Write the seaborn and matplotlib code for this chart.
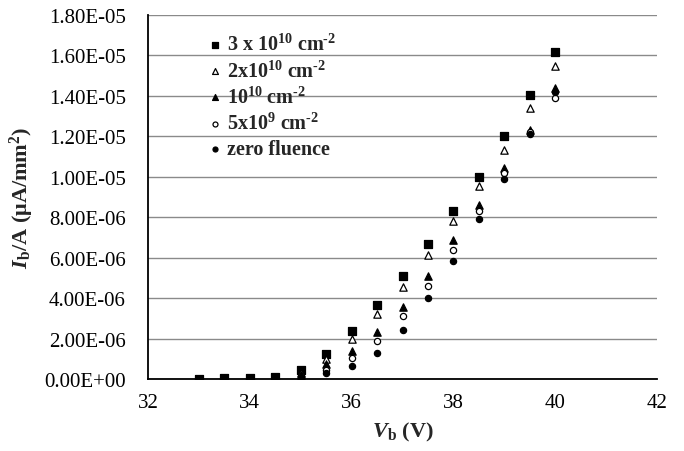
import numpy as np
import pandas as pd
import matplotlib
matplotlib.use("Agg")
import matplotlib.pyplot as plt
import seaborn as sns

sns.set_theme(style="white")
plt.rcParams['font.family'] = ['Liberation Serif', 'DejaVu Serif']
plt.rcParams['mathtext.fontset'] = 'custom'
plt.rcParams['mathtext.rm'] = 'Liberation Serif'
plt.rcParams['mathtext.it'] = 'Liberation Serif:italic'
plt.rcParams['mathtext.bf'] = 'Liberation Serif:bold'
plt.rcParams['mathtext.bfit'] = 'Liberation Serif:italic:bold'

voltage = [33, 33.5, 34, 34.5, 35, 35.5, 36, 36.5, 37, 37.5, 38, 38.5, 39, 39.5, 40]
f_3e10 = [0.02e-6, 0.03e-6, 0.05e-6, 0.12e-6, 0.45e-6, 1.26e-6, 2.35e-6, 3.67e-6, 5.10e-6, 6.70e-6, 8.30e-6, 10.0e-6, 12.0e-6, 14.05e-6, 16.15e-6]
f_2e10 = [0.015e-6, 0.025e-6, 0.04e-6, 0.10e-6, 0.32e-6, 1.00e-6, 2.00e-6, 3.20e-6, 4.57e-6, 6.15e-6, 7.80e-6, 9.55e-6, 11.3e-6, 13.4e-6, 15.46e-6]
f_1e10 = [0.01e-6, 0.02e-6, 0.03e-6, 0.07e-6, 0.22e-6, 0.72e-6, 1.36e-6, 2.30e-6, 3.58e-6, 5.07e-6, 6.85e-6, 8.60e-6, 10.45e-6, 12.3e-6, 14.4e-6]
f_5e9 = [0.01e-6, 0.015e-6, 0.02e-6, 0.05e-6, 0.15e-6, 0.46e-6, 1.05e-6, 1.87e-6, 3.10e-6, 4.60e-6, 6.40e-6, 8.30e-6, 10.2e-6, 12.2e-6, 13.9e-6]
f_zero = [0.005e-6, 0.01e-6, 0.015e-6, 0.03e-6, 0.08e-6, 0.28e-6, 0.62e-6, 1.28e-6, 2.40e-6, 4.00e-6, 5.85e-6, 7.90e-6, 9.90e-6, 12.1e-6, 14.2e-6]

labels = [r"3 x 10$^{\mathbf{10}}$ cm$^{\mathbf{\text{-}2}}$",
          r"2x10$^{\mathbf{10}}$ cm$^{\mathbf{\text{-}2}}$",
          r"10$^{\mathbf{10}}$ cm$^{\mathbf{\text{-}2}}$",
          r"5x10$^{\mathbf{9}}$ cm$^{\mathbf{\text{-}2}}$",
          "zero fluence"]
series = [f_3e10, f_2e10, f_1e10, f_5e9, f_zero]
markers = ["s", "^", "^", "o", "o"]
faces = ["black", "white", "black", "white", "black"]
sizes = [30, 28, 28, 20, 20]

fig = plt.figure(figsize=(6.84, 4.52), dpi=100)
ax = fig.add_axes([148/684, 1 - 380/452, (657-148)/684, (380-16)/452])

for lab, ys, m, fc, s in zip(labels, series, markers, faces, sizes):
    df = pd.DataFrame({"V": voltage, "I": ys})
    sns.scatterplot(data=df, x="V", y="I", ax=ax, marker=m, s=s,
                    facecolor=fc, edgecolor="black", linewidth=0.9,
                    label=lab, zorder=3)

ax.set_xlim(32, 42)
ax.set_ylim(0, 1.8e-5)
ax.set_xticks([32, 34, 36, 38, 40, 42])
yt = np.arange(0, 1.81e-5, 2e-6)
ax.set_yticks(yt)
ax.set_yticklabels([f"{v:.2E}" for v in yt])
ax.yaxis.grid(True, color="#8a8a8a", linewidth=1.0)
ax.set_axisbelow(True)
for sp in ["top", "right"]:
    ax.spines[sp].set_visible(False)
for sp in ["left", "bottom"]:
    ax.spines[sp].set_color("black")
    ax.spines[sp].set_linewidth(1.3)
ax.tick_params(axis="both", labelsize=15, colors="black", direction="in", length=4, width=1)
ax.tick_params(axis="y", length=0, pad=16)
ax.tick_params(axis="x", pad=10)

ax.set_xlabel(r"$\mathbfit{V}_{\mathbf{b}}$ (V)", fontsize=16, fontweight="bold", labelpad=6)
ax.set_ylabel(r"$\mathbfit{I}_{\mathbf{b}}$/A ($\mathbf{\mu}$A/mm$^{\mathbf{2}}$)", fontsize=16, fontweight="bold", labelpad=6)

leg = ax.legend(loc="upper left", bbox_to_anchor=(0.1, 0.97), frameon=False,
                prop={"family": "Liberation Serif", "weight": "bold", "size": 14.5},
                handletextpad=0.2, labelspacing=0.25, handlelength=0.8, borderaxespad=0,
                markerscale=0.8)

fig.savefig("out.png", dpi=100)
